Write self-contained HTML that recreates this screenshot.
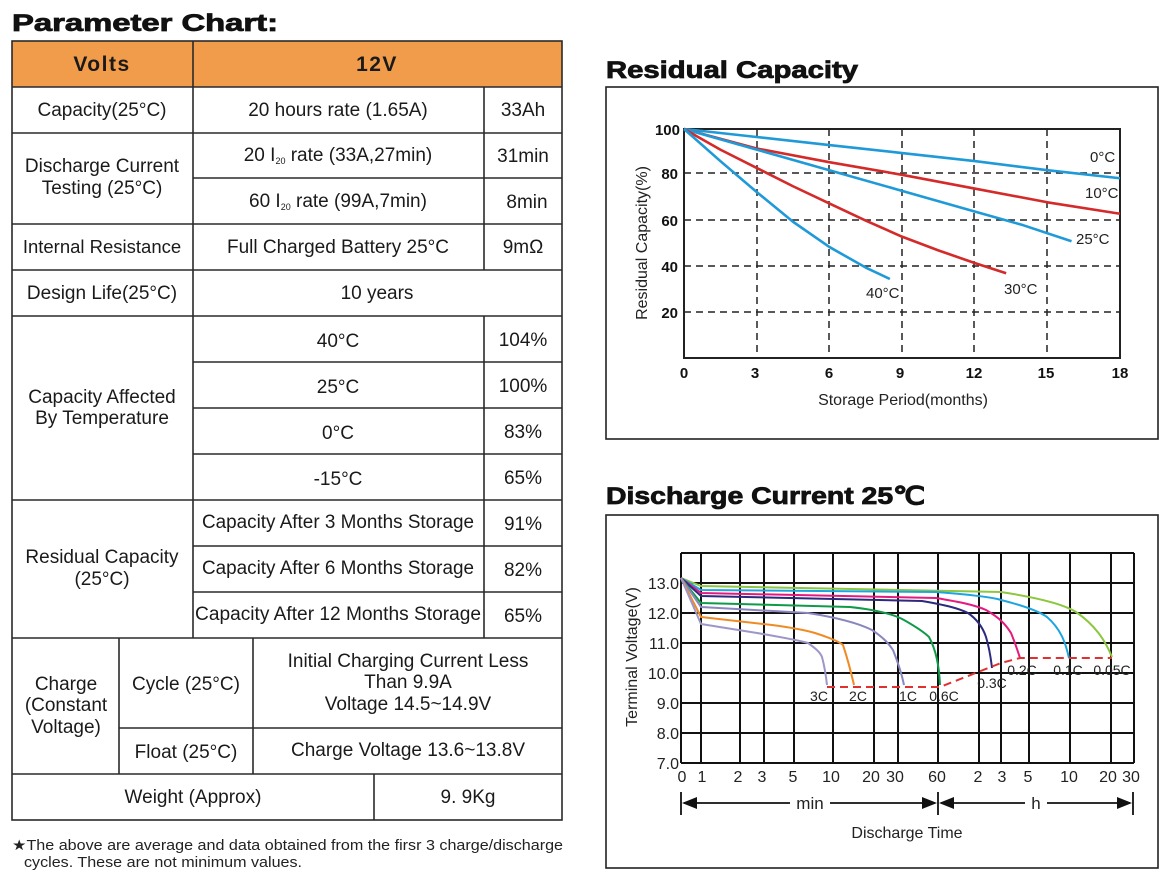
<!DOCTYPE html>
<html><head><meta charset="utf-8"><style>
html,body{margin:0;padding:0;background:#fff}
svg{display:block;font-family:"Liberation Sans",Arial,sans-serif}
</style></head><body>
<svg width="1170" height="888" viewBox="0 0 1170 888" xmlns="http://www.w3.org/2000/svg">
<!-- Titles -->
<text x="12" y="31" font-size="24" font-weight="900" fill="#111" stroke="#111" stroke-width="0.8" textLength="266" lengthAdjust="spacingAndGlyphs">Parameter Chart:</text>
<text x="606" y="78" font-size="24" font-weight="900" fill="#111" stroke="#111" stroke-width="0.8" textLength="252" lengthAdjust="spacingAndGlyphs">Residual Capacity</text>
<text x="606" y="504" font-size="24" font-weight="900" fill="#111" stroke="#111" stroke-width="0.8" textLength="319" lengthAdjust="spacingAndGlyphs">Discharge Current 25℃</text>

<!-- Table -->
<rect x="12" y="41" width="550" height="46" fill="#f09c4a"/>
<g stroke="#2a2a2a" stroke-width="1.6" fill="none">
<rect x="12" y="41" width="550" height="779"/>
<line x1="12" y1="87" x2="562" y2="87"/>
<line x1="12" y1="133" x2="562" y2="133"/>
<line x1="193" y1="178" x2="562" y2="178"/>
<line x1="12" y1="224" x2="562" y2="224"/>
<line x1="12" y1="270" x2="562" y2="270"/>
<line x1="12" y1="316" x2="562" y2="316"/>
<line x1="193" y1="362" x2="562" y2="362"/>
<line x1="193" y1="408" x2="562" y2="408"/>
<line x1="193" y1="454" x2="562" y2="454"/>
<line x1="12" y1="500" x2="562" y2="500"/>
<line x1="193" y1="546" x2="562" y2="546"/>
<line x1="193" y1="592" x2="562" y2="592"/>
<line x1="12" y1="638" x2="562" y2="638"/>
<line x1="119" y1="728" x2="562" y2="728"/>
<line x1="12" y1="774" x2="562" y2="774"/>
<line x1="193" y1="41" x2="193" y2="638"/>
<line x1="484" y1="87" x2="484" y2="270"/>
<line x1="484" y1="316" x2="484" y2="638"/>
<line x1="119" y1="638" x2="119" y2="774"/>
<line x1="253" y1="638" x2="253" y2="774"/>
<line x1="374" y1="774" x2="374" y2="820"/>
</g>
<g font-size="19" fill="#1a1a1a" text-anchor="middle">
<text x="102" y="71" font-size="21" font-weight="bold" letter-spacing="1.5">Volts</text>
<text x="377" y="71" font-size="21" font-weight="bold" letter-spacing="1.5">12V</text>
<text x="102" y="116">Capacity(25°C)</text>
<text x="338" y="116">20 hours rate (1.65A)</text>
<text x="523" y="116">33Ah</text>
<text x="102" y="172">Discharge Current</text>
<text x="102" y="194">Testing (25°C)</text>
<text x="338" y="161">20  I<tspan font-size="9" dy="3">20</tspan><tspan dy="-3"> rate  (33A,27min)</tspan></text>
<text x="523" y="162">31min</text>
<text x="338" y="207">60  I<tspan font-size="9" dy="3">20</tspan><tspan dy="-3"> rate (99A,7min)</tspan></text>
<text x="527" y="208">8min</text>
<text x="102" y="253" font-size="18.5">Internal Resistance</text>
<text x="338" y="253">Full Charged Battery 25°C</text>
<text x="523" y="253">9mΩ</text>
<text x="102" y="299">Design Life(25°C)</text>
<text x="377" y="299">10 years</text>
<text x="102" y="403">Capacity Affected</text>
<text x="102" y="424">By Temperature</text>
<text x="338" y="347">40°C</text><text x="523" y="346">104%</text>
<text x="338" y="393">25°C</text><text x="523" y="392">100%</text>
<text x="338" y="439">0°C</text><text x="523" y="438">83%</text>
<text x="338" y="485">-15°C</text><text x="523" y="484">65%</text>
<text x="102" y="563">Residual Capacity</text>
<text x="102" y="585">(25°C)</text>
<text x="338" y="528" textLength="272" lengthAdjust="spacingAndGlyphs">Capacity After 3 Months Storage</text><text x="523" y="530">91%</text>
<text x="338" y="574" textLength="272" lengthAdjust="spacingAndGlyphs">Capacity After 6 Months Storage</text><text x="523" y="576">82%</text>
<text x="338" y="620" textLength="286" lengthAdjust="spacingAndGlyphs">Capacity After 12 Months Storage</text><text x="523" y="622">65%</text>
<text x="66" y="690">Charge</text>
<text x="66" y="711">(Constant</text>
<text x="66" y="733">Voltage)</text>
<text x="186" y="690">Cycle (25°C)</text>
<text x="408" y="667">Initial Charging Current Less</text>
<text x="408" y="688">Than 9.9A</text>
<text x="408" y="710">Voltage 14.5~14.9V</text>
<text x="186" y="758">Float (25°C)</text>
<text x="408" y="756">Charge Voltage 13.6~13.8V</text>
<text x="193" y="803">Weight (Approx)</text>
<text x="468" y="803">9. 9Kg</text>
</g>
<text x="12" y="850" font-size="14.5" fill="#222" textLength="551" lengthAdjust="spacingAndGlyphs">★The above are average and data obtained from the firsr 3 charge/discharge</text>
<text x="24" y="867" font-size="14.5" fill="#222" textLength="278" lengthAdjust="spacingAndGlyphs">cycles. These are not minimum values.</text>

<!-- Chart 1 -->
<rect x="606" y="87" width="552" height="352" fill="none" stroke="#222" stroke-width="1.6"/>
<g stroke="#222" stroke-width="1.5" stroke-dasharray="7,5">
<line x1="684" y1="173" x2="1120" y2="173"/>
<line x1="684" y1="220" x2="1120" y2="220"/>
<line x1="684" y1="266" x2="1120" y2="266"/>
<line x1="684" y1="312" x2="1120" y2="312"/>
<line x1="757" y1="129" x2="757" y2="358"/>
<line x1="829" y1="129" x2="829" y2="358"/>
<line x1="902" y1="129" x2="902" y2="358"/>
<line x1="974" y1="129" x2="974" y2="358"/>
<line x1="1047" y1="129" x2="1047" y2="358"/>
</g>
<rect x="684" y="129" width="436" height="229" fill="none" stroke="#222" stroke-width="2"/>
<g transform="translate(684,358) scale(24.22,-2.29)" fill="none" stroke-width="2.6" stroke-linejoin="round">
<polyline vector-effect="non-scaling-stroke" stroke="#1f9ad8" points="0,100 3,96.5 6,93 9,89.5 12,86 15,82 18,78.5"/>
<polyline vector-effect="non-scaling-stroke" stroke="#d42a2a" points="0,100 3,91.5 6,85.5 9,80 12,74 15,68 18,63"/>
<polyline vector-effect="non-scaling-stroke" stroke="#1f9ad8" points="0,100 3,91 6,82 9,73 12,64 14,58 16,51"/>
<polyline vector-effect="non-scaling-stroke" stroke="#d42a2a" points="0,100 1.5,91 3,83 4.5,75 6,67.5 7.5,60 9,53 10.5,47 12,41.5 13.3,37"/>
<polyline vector-effect="non-scaling-stroke" stroke="#1f9ad8" points="0,100 1.5,86 3,72.5 4.5,59.5 6,48.5 7.5,39.5 8.5,34.5"/>
</g>
<g font-size="15" font-weight="bold" fill="#111" text-anchor="end">
<text x="680" y="135">100</text><text x="678" y="179">80</text><text x="678" y="226">60</text><text x="678" y="272">40</text><text x="678" y="318">20</text>
</g>
<g font-size="15" font-weight="bold" fill="#111" text-anchor="middle">
<text x="684" y="378">0</text><text x="755" y="378">3</text><text x="829" y="378">6</text><text x="900" y="378">9</text><text x="974" y="378">12</text><text x="1046" y="378">15</text><text x="1120" y="378">18</text>
</g>
<g font-size="15" fill="#222">
<text x="1090" y="162">0°C</text>
<text x="1085" y="198">10°C</text>
<text x="1076" y="244">25°C</text>
<text x="1004" y="294">30°C</text>
<text x="866" y="298">40°C</text>
</g>
<text x="903" y="405" font-size="16" fill="#222" text-anchor="middle">Storage Period(months)</text>
<text transform="translate(647,243) rotate(-90)" font-size="16" fill="#222" text-anchor="middle">Residual Capacity(%)</text>

<!-- Chart 2 -->
<rect x="606" y="515" width="552" height="353" fill="none" stroke="#222" stroke-width="1.6"/>
<g stroke="#111" stroke-width="2">
<line x1="681" y1="553" x2="1134" y2="553"/>
<line x1="681" y1="583" x2="1134" y2="583"/>
<line x1="681" y1="613" x2="1134" y2="613"/>
<line x1="681" y1="643" x2="1134" y2="643"/>
<line x1="681" y1="673" x2="1134" y2="673"/>
<line x1="681" y1="703" x2="1134" y2="703"/>
<line x1="681" y1="733" x2="1134" y2="733"/>
<line x1="681" y1="763" x2="1134" y2="763"/>
<line x1="681" y1="553" x2="681" y2="763"/>
<line x1="701" y1="553" x2="701" y2="763"/>
<line x1="740" y1="553" x2="740" y2="763"/>
<line x1="764" y1="553" x2="764" y2="763"/>
<line x1="794" y1="553" x2="794" y2="763"/>
<line x1="833" y1="553" x2="833" y2="763"/>
<line x1="874" y1="553" x2="874" y2="763"/>
<line x1="898" y1="553" x2="898" y2="763"/>
<line x1="938" y1="553" x2="938" y2="763"/>
<line x1="979" y1="553" x2="979" y2="763"/>
<line x1="1001" y1="553" x2="1001" y2="763"/>
<line x1="1029" y1="553" x2="1029" y2="763"/>
<line x1="1070" y1="553" x2="1070" y2="763"/>
<line x1="1111" y1="553" x2="1111" y2="763"/>
<line x1="1134" y1="553" x2="1134" y2="763"/>
</g>
<g fill="none" stroke-width="2" stroke-linejoin="round">
<path stroke="#8dc63f" d="M681,578 L701,586 L1001,592 C1040,598 1065,605 1076,612 C1095,625 1105,640 1112,657"/>
<path stroke="#1ea5e0" d="M681,578 L701,590 L936,592 C975,595 995,598 1001,600 C1025,606 1040,612 1047,617 C1062,630 1066,645 1069,658"/>
<path stroke="#e5197e" d="M681,578 L701,593 L936,598 C960,602 975,605 986,610 C1000,618 1006,625 1011,633 C1016,645 1018,652 1020,658"/>
<path stroke="#2b2a7f" d="M681,578 L701,596 L922,601 C945,605 958,608 968,613 C978,620 983,628 986,637 C990,650 991,660 992,668"/>
<path stroke="#0f9a4a" d="M681,578 L701,603 L850,607 C878,610 895,615 904,620 C918,628 925,633 929,637 C936,650 939,665 940,685"/>
<path stroke="#8a86c0" d="M681,578 L701,607 L808,613 C840,618 860,624 872,630 C884,638 889,644 893,650 C899,665 902,675 904,685"/>
<path stroke="#f08a24" d="M681,578 L701,617 L772,625 C795,628 808,631 815,633 C830,638 838,641 843,645 C848,660 851,672 854,685"/>
<path stroke="#9d97c9" d="M681,578 L701,624 L757,633 C780,637 798,640 808,643 C815,648 820,652 822,657 C825,668 826,676 827,685"/>
</g>
<polyline fill="none" stroke="#e03030" stroke-width="2" stroke-dasharray="8,5" points="827,687 940,687 1001,663 1020,658 1112,658"/>
<g font-size="14" fill="#222" text-anchor="middle">
<text x="819" y="701">3C</text><text x="858" y="701">2C</text><text x="908" y="701">1C</text><text x="944" y="701">0.6C</text>
<text x="992" y="688">0.3C</text><text x="1022" y="675">0.2C</text><text x="1068" y="675">0.1C</text><text x="1112" y="675">0.05C</text>
</g>
<g font-size="16" fill="#222" text-anchor="end">
<text x="679" y="589">13.0</text><text x="679" y="619">12.0</text><text x="679" y="649">11.0</text><text x="679" y="679">10.0</text>
<text x="679" y="709">9.0</text><text x="679" y="739">8.0</text><text x="679" y="769">7.0</text>
</g>
<g font-size="16" fill="#222" text-anchor="middle">
<text x="682" y="782">0</text><text x="702" y="782">1</text><text x="738" y="782">2</text><text x="762" y="782">3</text><text x="793" y="782">5</text>
<text x="831" y="782">10</text><text x="871" y="782">20</text><text x="895" y="782">30</text><text x="937" y="782">60</text>
<text x="978" y="782">2</text><text x="1002" y="782">3</text><text x="1028" y="782">5</text><text x="1069" y="782">10</text><text x="1108" y="782">20</text><text x="1131" y="782">30</text>
</g>
<g stroke="#111" stroke-width="1.8">
<line x1="681" y1="792" x2="681" y2="815"/>
<line x1="938" y1="792" x2="938" y2="815"/>
<line x1="1133" y1="792" x2="1133" y2="815"/>
<line x1="684" y1="803" x2="790" y2="803"/>
<line x1="830" y1="803" x2="935" y2="803"/>
<line x1="941" y1="803" x2="1025" y2="803"/>
<line x1="1047" y1="803" x2="1130" y2="803"/>
</g>
<g fill="#111">
<polygon points="682,803 697,797 697,809"/>
<polygon points="937,803 922,797 922,809"/>
<polygon points="939,803 954,797 954,809"/>
<polygon points="1132,803 1117,797 1117,809"/>
</g>
<text x="810" y="809" font-size="17" fill="#222" text-anchor="middle">min</text>
<text x="1036" y="809" font-size="17" fill="#222" text-anchor="middle">h</text>
<text x="907" y="838" font-size="16" fill="#222" text-anchor="middle">Discharge Time</text>
<text transform="translate(637,657) rotate(-90)" font-size="16" fill="#222" text-anchor="middle">Terminal Voltage(V)</text>
</svg>
</body></html>
